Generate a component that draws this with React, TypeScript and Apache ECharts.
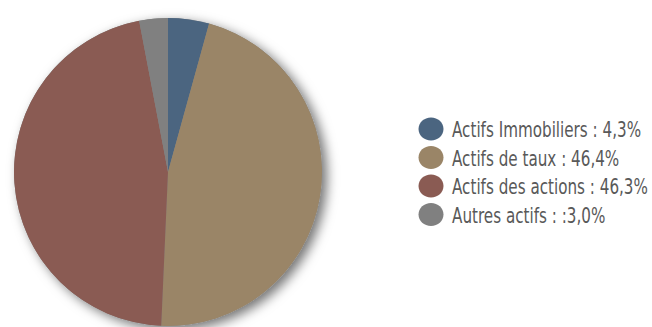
import React, { useEffect, useRef } from "react";
import * as echarts from "echarts";

const categories = ["Actifs Immobiliers", "Actifs de taux", "Actifs des actions", "Autres actifs"];
const values = [4.3, 46.4, 46.3, 3.0];
const legendLabels = ["Actifs Immobiliers : 4,3%", "Actifs de taux : 46,4%", "Actifs des actions : 46,3%", "Autres actifs : :3,0%"];
const colors = ["#4b6580", "#9a8567", "#8a5b53", "#808080"];

export default function App() {
  const ref = useRef<HTMLDivElement>(null);
  useEffect(() => {
    if (!ref.current) return;
    const chart = echarts.init(ref.current, undefined, { renderer: "svg" });
    const legendTop = 129;
    const legendStep = 28.5;
    const legendElements: any[] = [];
    categories.forEach((c, i) => {
      const cy = legendTop + legendStep * i;
      legendElements.push({
        type: "ellipse",
        shape: { cx: 431, cy, rx: 12.5, ry: 11.5 },
        style: { fill: colors[i] },
        silent: true,
      });
      legendElements.push({
        type: "text",
        x: 452,
        y: cy,
        scaleX: 0.69,
        style: {
          text: legendLabels[i],
          fontFamily: "'DejaVu Sans', sans-serif",
          fontSize: 22,
          fill: "#595959",
          verticalAlign: "middle",
          align: "left",
        },
        silent: true,
      });
    });
    chart.setOption({
      animation: false,
      backgroundColor: "#ffffff",
      graphic: { elements: legendElements },
      series: [
        {
          type: "pie",
          silent: true,
          center: [168, 172],
          radius: 154,
          label: { show: false },
          labelLine: { show: false },
          itemStyle: {
            color: "#888",
            shadowBlur: 12,
            shadowOffsetX: 5,
            shadowOffsetY: 4,
            shadowColor: "rgba(0,0,0,0.55)",
          },
          data: [{ value: 1, name: "__bg" }],
        },
        {
          type: "pie",
          silent: true,
          center: [168, 172],
          radius: 154,
          startAngle: 90,
          clockwise: true,
          label: { show: false },
          labelLine: { show: false },
          itemStyle: { borderWidth: 0 },
          data: categories.map((c, i) => ({
            name: c,
            value: values[i],
            itemStyle: { color: colors[i] },
          })),
        },
      ],
    });
    return () => chart.dispose();
  }, []);
  return (
    <div
      ref={ref}
      style={{ position: "absolute", left: 0, top: 0, width: 652, height: 327 }}
    />
  );
}
